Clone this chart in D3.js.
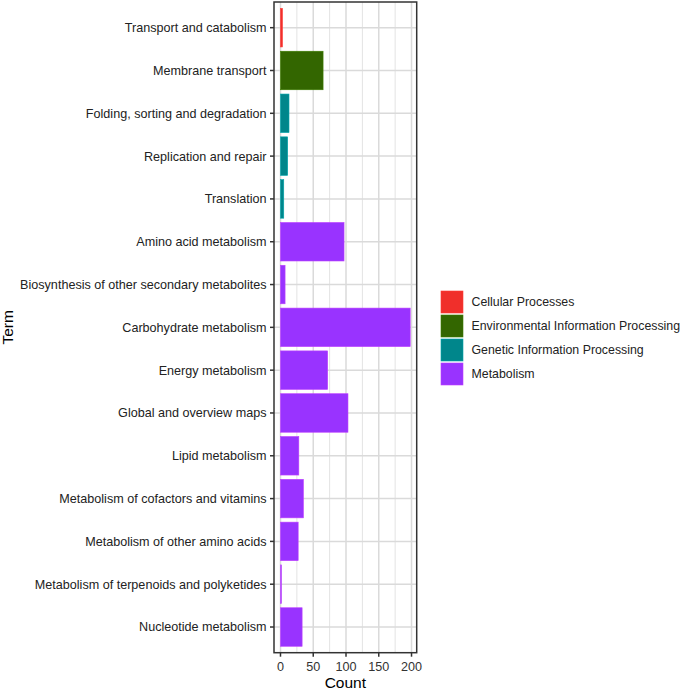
<!DOCTYPE html>
<html><head><meta charset="utf-8">
<script src="https://cdn.jsdelivr.net/npm/d3@7"></script>
<style>body{margin:0;background:#fff;}svg{display:block;font-family:"Liberation Sans",Arial,Helvetica,sans-serif;}</style>
</head><body>
<svg id="chart" width="685" height="690"></svg>
<script>
const terms = ["Transport and catabolism","Membrane transport","Folding, sorting and degradation","Replication and repair","Translation","Amino acid metabolism","Biosynthesis of other secondary metabolites","Carbohydrate metabolism","Energy metabolism","Global and overview maps","Lipid metabolism","Metabolism of cofactors and vitamins","Metabolism of other amino acids","Metabolism of terpenoids and polyketides","Nucleotide metabolism"];
const counts = [3,65,13,11,5,97,7,198,72,103,28,35,27,1.5,33];
const classes = ["Cellular Processes","Environmental Information Processing","Genetic Information Processing","Genetic Information Processing","Genetic Information Processing","Metabolism","Metabolism","Metabolism","Metabolism","Metabolism","Metabolism","Metabolism","Metabolism","Metabolism","Metabolism"];
const legendLabels = ["Cellular Processes","Environmental Information Processing","Genetic Information Processing","Metabolism"];
const legendColors = ["#F02F2B","#336600","#00868B","#9933FF"];
const xTicks = [0,50,100,150,200];
const xMinor = [25,75,125,175];

const svg = d3.select("#chart");
const L = 274, R = 416.7, T = 2, B = 652.7;
const maxV = d3.max(counts);
const x = d3.scaleLinear().domain([-0.05*maxV, 1.05*maxV]).range([L, R]);
// ggplot discrete expansion: 0.6 units each side
const step = (B - T) / (terms.length - 1 + 1.2);
const y = d3.scalePoint().domain(terms).range([T + 0.6*step, B - 0.6*step]);
const color = d3.scaleOrdinal().domain(legendLabels).range(legendColors);
const FS = 12.6;

svg.append("rect").attr("x",L).attr("y",T).attr("width",R-L).attr("height",B-T).attr("fill","#fff");
svg.selectAll(".minor").data(xMinor).join("line")
  .attr("x1",d=>x(d)).attr("x2",d=>x(d)).attr("y1",T).attr("y2",B)
  .attr("stroke","#E3E3E3").attr("stroke-width",1);
svg.selectAll(".majorx").data(xTicks).join("line")
  .attr("x1",d=>x(d)).attr("x2",d=>x(d)).attr("y1",T).attr("y2",B)
  .attr("stroke","#DADADA").attr("stroke-width",1.5);
svg.selectAll(".majory").data(terms).join("line")
  .attr("x1",L).attr("x2",R).attr("y1",d=>y(d)).attr("y2",d=>y(d))
  .attr("stroke","#DADADA").attr("stroke-width",1.5);

const bw = step*0.9;
svg.selectAll(".bar").data(terms).join("rect")
  .attr("x",x(0)).attr("y",d=>y(d)-bw/2)
  .attr("width",(d,i)=>x(counts[i])-x(0)).attr("height",bw)
  .attr("fill",(d,i)=>color(classes[i]))
  .attr("stroke",(d,i)=>d3.color(color(classes[i])).brighter(0.6)).attr("stroke-width",0.6);

svg.append("rect").attr("x",L).attr("y",T).attr("width",R-L).attr("height",B-T)
  .attr("fill","none").attr("stroke","#333").attr("stroke-width",1.5);

const yAxisG = svg.append("g");
terms.forEach(t=>{
  yAxisG.append("line").attr("x1",L-4).attr("x2",L).attr("y1",y(t)).attr("y2",y(t)).attr("stroke","#333").attr("stroke-width",1.5);
  yAxisG.append("text").attr("x",L-7.5).attr("y",y(t)).attr("dy","0.35em")
    .attr("text-anchor","end").attr("font-size",FS).attr("fill","#222").text(t);
});
const xAxisG = svg.append("g");
xTicks.forEach(v=>{
  xAxisG.append("line").attr("x1",x(v)).attr("x2",x(v)).attr("y1",B).attr("y2",B+4).attr("stroke","#333").attr("stroke-width",1.5);
  xAxisG.append("text").attr("x",x(v)).attr("y",B+13.5).attr("dy","0.35em")
    .attr("text-anchor","middle").attr("font-size",FS).attr("fill","#333").text(v);
});
svg.append("text").attr("x",(L+R)/2).attr("y",688).attr("text-anchor","middle").attr("font-size",15.5).attr("fill","#000").text("Count");
svg.append("text").attr("transform",`translate(13,${(T+B)/2}) rotate(-90)`).attr("text-anchor","middle").attr("font-size",15.5).attr("fill","#000").text("Term");

const lg = svg.append("g");
legendLabels.forEach((l,i)=>{
  const yy = 291 + i*24;
  lg.append("rect").attr("x",441).attr("y",yy).attr("width",22).attr("height",22)
    .attr("fill",legendColors[i]).attr("stroke",d3.color(legendColors[i]).brighter(0.6)).attr("stroke-width",0.6);
  lg.append("text").attr("x",471.5).attr("y",yy+11).attr("dy","0.35em").attr("font-size",12.35).attr("fill","#222").text(l);
});
</script>
</body></html>
